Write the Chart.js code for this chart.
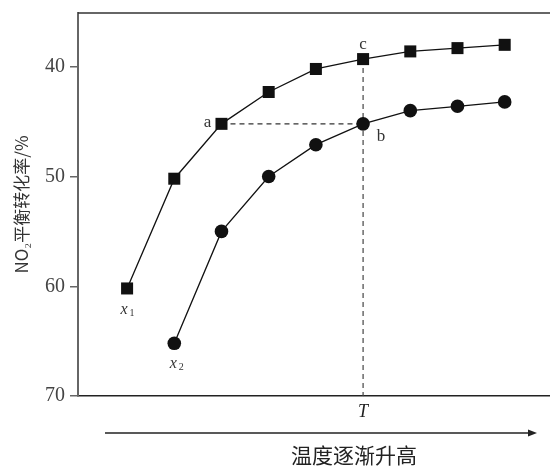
<!DOCTYPE html>
<html>
<head>
<meta charset="utf-8">
<script src="https://cdn.jsdelivr.net/npm/chart.js@4/dist/chart.umd.min.js"></script>
<style>
  body { margin: 0; background: #fff; overflow: hidden; }
  canvas { display: block; }
</style>
</head>
<body>
<canvas id="chart" width="550" height="466"></canvas>
<script>
// temperature steps (x axis has no numbers, only T marked)
const x1Steps = [0, 1, 2, 3, 4, 5, 6, 7, 8];
const x1Rate = [60.2, 50.2, 45.2, 42.3, 40.2, 39.3, 38.6, 38.3, 38.0];
const x2Steps = [1, 2, 3, 4, 5, 6, 7, 8];
const x2Rate = [65.2, 55.0, 50.0, 47.1, 45.2, 44.0, 43.6, 43.2];
const yTicks = [40, 50, 60, 70];
const tStep = 5;        // temperature T
const aStep = 2;        // point a on x1
const abLevel = 45.2;   // a and b share the same conversion

const serif = "'Liberation Serif', 'DejaVu Serif', serif";
const cjk = "'Noto Sans CJK SC', 'Liberation Serif', serif";

const ctx = document.getElementById("chart").getContext("2d");

function toPts(xs, ys) {
    return xs.map((x, i) => ({ x: x, y: ys[i] }));
}

// extra drawing: top frame line, arrow, axis caption and point letters
const decorations = {
    id: "decorations",
    afterDraw(chart) {
        const c = chart.ctx;
        const area = chart.chartArea;
        const xs = chart.scales.x;
        const ys = chart.scales.y;
        c.save();
        // top line
        c.strokeStyle = "#333";
        c.lineWidth = 1.5;
        c.beginPath();
        c.moveTo(area.left, area.top);
        c.lineTo(chart.width, area.top);
        c.stroke();

        // arrow under the axis
        const ay = area.bottom + 37;
        c.strokeStyle = "#222";
        c.lineWidth = 1.5;
        c.beginPath();
        c.moveTo(105, ay);
        c.lineTo(530, ay);
        c.stroke();
        c.fillStyle = "#222";
        c.beginPath();
        c.moveTo(537, ay);
        c.lineTo(528, ay - 3.5);
        c.lineTo(528, ay + 3.5);
        c.closePath();
        c.fill();

        c.font = "21px " + cjk;
        c.textAlign = "center";
        c.textBaseline = "middle";
        c.fillText("温度逐渐升高", 354, ay + 22);

        // point letters
        c.fillStyle = "#333";
        c.font = "17px " + serif;
        c.fillText("a", xs.getPixelForValue(aStep) - 14, ys.getPixelForValue(abLevel) - 1);
        c.fillText("b", xs.getPixelForValue(tStep) + 18, ys.getPixelForValue(abLevel) + 13);
        c.fillText("c", xs.getPixelForValue(tStep), ys.getPixelForValue(x1Rate[tStep]) - 15);

        c.font = "italic 16px " + serif;
        const lx1 = xs.getPixelForValue(x1Steps[0]) - 3;
        const ly1 = ys.getPixelForValue(x1Rate[0]) + 21;
        c.fillText("x", lx1, ly1);
        c.font = "10px " + serif;
        c.fillText("1", lx1 + 8, ly1 + 4);
        c.font = "italic 16px " + serif;
        const lx2 = xs.getPixelForValue(x2Steps[0]) - 1;
        const ly2 = ys.getPixelForValue(x2Rate[0]) + 20;
        c.fillText("x", lx2, ly2);
        c.font = "10px " + serif;
        c.fillText("2", lx2 + 8, ly2 + 4);
        c.restore();
    }
};

new Chart(ctx, {
    type: "line",
    data: {
        datasets: [
            {
                label: "x1",
                data: toPts(x1Steps, x1Rate),
                borderColor: "#111",
                borderWidth: 1.3,
                pointStyle: "rect",
                pointRadius: 8.5,
                pointBackgroundColor: "#111",
                pointBorderWidth: 0,
                tension: 0
            },
            {
                label: "x2",
                data: toPts(x2Steps, x2Rate),
                borderColor: "#111",
                borderWidth: 1.3,
                pointStyle: "circle",
                pointRadius: 6.8,
                pointBackgroundColor: "#111",
                pointBorderWidth: 0,
                tension: 0
            },
            {
                // dashed a -> b
                label: "ab",
                data: [{ x: aStep, y: abLevel }, { x: tStep, y: abLevel }],
                borderColor: "#333",
                borderWidth: 1.2,
                borderDash: [5, 4],
                pointRadius: 0
            },
            {
                // dashed c -> T
                label: "cT",
                data: [{ x: tStep, y: x1Rate[tStep] }, { x: tStep, y: 70 }],
                borderColor: "#444",
                borderWidth: 1.2,
                borderDash: [5, 4],
                pointRadius: 0
            }
        ]
    },
    options: {
        responsive: false,
        animation: false,
        layout: { autoPadding: false, padding: { top: 13, right: 0, left: 0, bottom: 0 } },
        plugins: {
            legend: { display: false },
            tooltip: { enabled: false }
        },
        scales: {
            x: {
                type: "linear",
                min: -1.04,
                max: 8.96,
                afterBuildTicks: (scale) => { scale.ticks = [{ value: tStep }]; },
                afterFit: (scale) => { scale.height = 70; },
                ticks: {
                    callback: () => "T",
                    font: { family: serif, size: 18, style: "italic" },
                    color: "#222",
                    padding: 5,
                    maxRotation: 0
                },
                grid: { drawOnChartArea: false, drawTicks: true, tickLength: 0 },
                border: { color: "#222", width: 1.5 }
            },
            y: {
                type: "linear",
                reverse: true,
                min: 35.1,
                max: 70,
                afterBuildTicks: (scale) => { scale.ticks = yTicks.map(v => ({ value: v })); },
                afterFit: (scale) => {
                    scale.width = 78;
                    scale.paddingTop = 0;
                    scale.paddingBottom = 0;
                },
                ticks: {
                    font: { family: serif, size: 20 },
                    color: "#444",
                    padding: 5
                },
                grid: { drawOnChartArea: false, drawTicks: true, tickLength: 8, color: "#666", lineWidth: 1.5 },
                border: { color: "#666", width: 2 },
                title: {
                    display: true,
                    text: "NO₂平衡转化率/%",
                    font: { family: cjk, size: 17 },
                    color: "#333",
                    padding: { top: 11, bottom: 2 }
                }
            }
        }
    },
    plugins: [decorations]
});
</script>
</body>
</html>
